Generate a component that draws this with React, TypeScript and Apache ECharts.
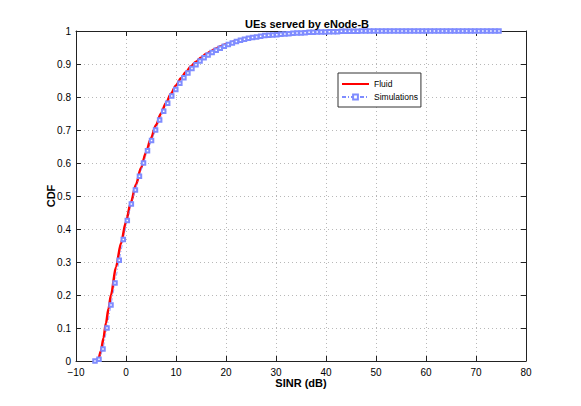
import React, { useEffect, useRef } from "react";
import * as echarts from "echarts";

const chartTitle = "UEs served by eNode-B";
const xAxisName = "SINR (dB)";
const yAxisName = "CDF";
const seriesNames = ["Fluid", "Simulations"];

// Fluid model CDF (SINR dB, CDF)
const fluidX = [-6, -5.5, -5, -4.5, -4, -3.5, -3, -2, -1, 0, 1, 2, 3, 4, 5, 6, 7, 8, 9, 10, 11, 12, 13, 14, 15, 16, 17, 18, 19, 20, 22, 24, 26, 28, 30, 33, 36, 40, 45, 50, 55, 61];
const fluidY = [0, 0.008, 0.03, 0.07, 0.115, 0.158, 0.2, 0.285, 0.357, 0.422, 0.482, 0.535, 0.585, 0.632, 0.675, 0.715, 0.75, 0.782, 0.81, 0.835, 0.857, 0.876, 0.893, 0.907, 0.919, 0.93, 0.939, 0.947, 0.954, 0.96, 0.97, 0.977, 0.983, 0.987, 0.99, 0.993, 0.995, 0.997, 0.998, 0.999, 0.9995, 1];

// Simulation CDF samples
const simX = [
  -6.2, -5.4, -4.6, -3.8, -3.0, -2.2, -1.35, -0.54, 0.26, 1.07,
  1.88, 2.69, 3.5, 4.3, 5.11, 5.92, 6.73, 7.54, 8.34, 9.15,
  9.96, 10.77, 11.58, 12.38, 13.19, 14.0, 14.81, 15.62, 16.42, 17.23,
  18.04, 18.85, 19.66, 20.46, 21.27, 22.08, 22.89, 23.7, 24.5, 25.31,
  26.12, 26.93, 27.74, 28.54, 29.35, 30.16, 30.97, 31.78, 32.58, 33.39,
  34.2, 35.01, 35.82, 36.62, 37.43, 38.24, 39.05, 39.86, 40.66, 41.47,
  42.28, 43.09, 43.9, 44.7, 45.51, 46.32, 47.13, 47.94, 48.74, 49.55,
  50.36, 51.17, 51.98, 52.78, 53.59, 54.4, 55.21, 56.02, 56.82, 57.63,
  58.44, 59.25, 60.06, 60.86, 61.67, 62.48, 63.29, 64.1, 64.9, 65.71,
  66.52, 67.33, 68.14, 68.94, 69.75, 70.56, 71.37, 72.18, 72.98, 73.79,
  74.6
];
const simY = [
  0, 0.005, 0.036, 0.1, 0.17, 0.236, 0.305, 0.368, 0.426, 0.476,
  0.518, 0.56, 0.6, 0.637, 0.668, 0.7, 0.73, 0.757, 0.781, 0.803,
  0.823, 0.842, 0.858, 0.873, 0.886, 0.898, 0.909, 0.919, 0.927, 0.935,
  0.942, 0.948, 0.954, 0.959, 0.964, 0.968, 0.972, 0.975, 0.978, 0.98,
  0.982, 0.984, 0.986, 0.987, 0.988, 0.989, 0.99, 0.991, 0.992, 0.993,
  0.994, 0.994, 0.995, 0.996, 0.996, 0.997, 0.997, 0.997, 0.998, 0.998,
  0.998, 0.999, 0.999, 0.999, 0.999, 0.999, 1, 1, 1, 1,
  1, 1, 1, 1, 1, 1, 1, 1, 1, 1,
  1, 1, 1, 1, 1, 1, 1, 1, 1, 1,
  1, 1, 1, 1, 1, 1, 1, 1, 1, 1,
  1
];

const FONT = "'Liberation Sans', Arial, Helvetica, sans-serif";

export default function App() {
  const ref = useRef<HTMLDivElement>(null);
  useEffect(() => {
    if (!ref.current) return;
    const chart = echarts.init(ref.current, undefined, { renderer: "svg" });
    const fmtX = (v: number) => (v < 0 ? "\u2212" + Math.abs(v) : String(v));
    const fmtY = (v: number) => {
      const r = Math.round(v * 10) / 10;
      return r === 0 ? "0" : r === 1 ? "1" : r.toFixed(1);
    };
    const gridLine = { show: true, lineStyle: { color: "#b8b8b8", type: [1, 3] as any, width: 1 } };
    const axisLine = { show: true, onZero: false, lineStyle: { color: "#222", width: 1 } };
    const tick = { show: true, inside: true, length: 5, lineStyle: { color: "#222" } };
    chart.setOption({
      animation: false,
      backgroundColor: "#ffffff",
      textStyle: { fontFamily: FONT },
      title: {
        text: chartTitle,
        left: 302,
        top: 13,
        textAlign: "center",
        textStyle: { fontFamily: FONT, fontSize: 11, fontWeight: "bold", color: "#000" },
      },
      grid: { left: 76, right: 55, top: 31, bottom: 45, containLabel: false },
      legend: {
        left: 338,
        top: 73,
        orient: "vertical",
        backgroundColor: "#fff",
        borderColor: "#333",
        borderWidth: 1,
        borderRadius: 0,
        padding: [6, 3, 5, 3],
        itemGap: 3,
        itemWidth: 27,
        itemHeight: 6,
        textStyle: { fontFamily: FONT, fontSize: 8.5, color: "#000", lineHeight: 10 },
        data: [
          { name: seriesNames[0], itemStyle: { opacity: 0 } },
          { name: seriesNames[1] },
        ],
      },
      xAxis: [
        {
          type: "value",
          min: -10,
          max: 80,
          interval: 10,
          name: xAxisName,
          nameLocation: "middle",
          nameGap: 16,
          nameMoveOverlap: false,
          nameTextStyle: { fontFamily: FONT, fontSize: 11, fontWeight: "bold", color: "#000", lineHeight: 11 },
          axisLine,
          axisTick: tick,
          axisLabel: { formatter: fmtX, fontFamily: FONT, fontSize: 10, color: "#000", margin: 6, lineHeight: 10 },
          splitLine: gridLine,
        },
        {
          type: "value",
          position: "top",
          min: -10,
          max: 80,
          interval: 10,
          axisLine,
          axisTick: tick,
          axisLabel: { show: false },
          splitLine: { show: false },
        },
      ],
      yAxis: [
        {
          type: "value",
          min: 0,
          max: 1,
          interval: 0.1,
          name: yAxisName,
          nameLocation: "middle",
          nameGap: 20,
          nameMoveOverlap: false,
          nameTextStyle: { fontFamily: FONT, fontSize: 11, fontWeight: "bold", color: "#000" },
          axisLine,
          axisTick: tick,
          axisLabel: { formatter: fmtY, fontFamily: FONT, fontSize: 10, color: "#000", margin: 5, lineHeight: 9 },
          splitLine: gridLine,
        },
        {
          type: "value",
          position: "right",
          min: 0,
          max: 1,
          interval: 0.1,
          axisLine,
          axisTick: tick,
          axisLabel: { show: false },
          splitLine: { show: false },
        },
      ],
      series: [
        {
          name: seriesNames[0],
          type: "line",
          data: fluidX.map((x, i) => [x, fluidY[i]]),
          showSymbol: false,
          symbol: "none",
          smooth: 0.3,
          smoothMonotone: "x",
          lineStyle: { color: "#ff0000", width: 2.5 },
          itemStyle: { color: "#ff0000" },
          z: 2,
        },
        {
          name: seriesNames[1],
          type: "line",
          data: simX.map((x, i) => [x, simY[i]]),
          symbol: "emptyRect",
          symbolSize: 3.5,
          showSymbol: true,
          lineStyle: { color: "#7f8cff", width: 0.8, type: [4, 2, 1, 2] as any },
          itemStyle: { color: "#7f8cff", borderWidth: 0.8 },
          z: 3,
        },
      ],
    });
    return () => chart.dispose();
  }, []);
  return <div ref={ref} style={{ width: 581, height: 406, position: "absolute", left: 0, top: 0 }} />;
}
